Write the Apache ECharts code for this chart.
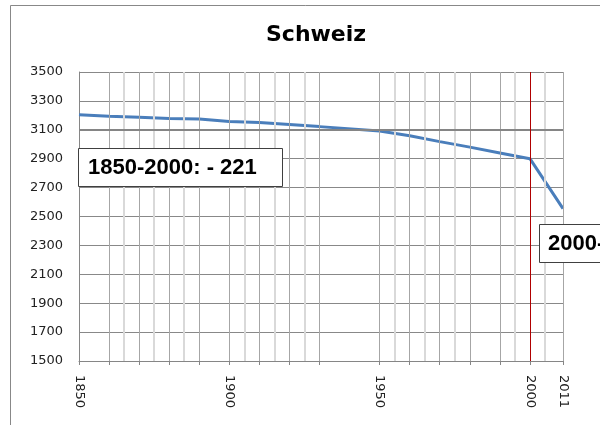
<!DOCTYPE html>
<html>
<head>
<meta charset="utf-8">
<script src="https://cdn.jsdelivr.net/npm/echarts@6/dist/echarts.min.js"></script>
<style>
  html, body { margin: 0; padding: 0; background: #fff; }
  #chart { width: 600px; height: 425px; }
</style>
</head>
<body>
<div id="chart"></div>
<script>
// Bevoelkerung (Tsd.) - gelesen aus der Vorlage
const years = [1850, 1860, 1870, 1880, 1890, 1900, 1910, 1920, 1930, 1950, 1960, 1970, 1980, 1990, 2000, 2011];
const values = [3205, 3193, 3186, 3178, 3174, 3158, 3150, 3136, 3122, 3091, 3059, 3018, 2980, 2939, 2900, 2554];

const majorGridYears = [1860, 1870, 1880, 1890, 1900, 1910, 1920, 1930, 1950, 1960, 1970, 1980, 1990];
const minorGridYears = [1865, 1875, 1885, 1905, 1915, 1925, 1955, 1965, 1975, 1995, 2005];
const tickYears = [1850, 1860, 1870, 1880, 1890, 1900, 1910, 1920, 1930, 1950, 1960, 1970, 1980, 1990, 2000, 2011];
const labelYears = [1850, 1900, 1950, 2000, 2011];
const markYear = 2000;
const refLevel = 3100;

const box1Text = '1850-2000: - 221';
const box2Text = '2000-2011: - 346';

const chart = echarts.init(document.getElementById('chart'));

const vLines = [];
minorGridYears.forEach(y => vLines.push({ xAxis: y, lineStyle: { color: '#d9d9d9', width: 2, type: 'solid' } }));
majorGridYears.forEach(y => vLines.push({ xAxis: y, lineStyle: { color: '#a6a6a6', width: 1, type: 'solid' } }));
vLines.push({ xAxis: 2011, lineStyle: { color: '#a6a6a6', width: 1, type: 'solid' } });

const boxFont = 'bold 22px "Liberation Sans", Arial';

const option = {
  animation: false,
  title: {
    text: 'Schweiz',
    left: 261,
    top: 19,
    textStyle: { fontFamily: 'DejaVu Sans', fontWeight: 'bold', fontSize: 22, color: '#000' }
  },
  grid: { left: 79, right: 37, top: 72, bottom: 64 },
  xAxis: {
    type: 'value',
    min: 1850,
    max: 2011,
    splitLine: { show: false },
    axisLine: { show: true, lineStyle: { color: '#868686', width: 1 } },
    axisTick: { show: true, length: 4, lineStyle: { color: '#868686' }, customValues: tickYears },
    axisLabel: {
      customValues: labelYears,
      formatter: v => String(v),
      rotate: -90,
      margin: 14,
      fontFamily: 'DejaVu Sans',
      fontSize: 13,
      color: '#222'
    }
  },
  yAxis: {
    type: 'value',
    min: 1500,
    max: 3500,
    interval: 200,
    axisLine: { show: true, lineStyle: { color: '#868686', width: 1 } },
    axisTick: { show: false },
    splitLine: { lineStyle: { color: '#888888', width: 1 } },
    axisLabel: { formatter: v => String(v), margin: 16, fontFamily: 'DejaVu Sans', fontSize: 13, color: '#222' }
  },
  series: [
    {
      type: 'line',
      data: [],
      silent: true,
      z: 1,
      markLine: {
        silent: true,
        symbol: 'none',
        label: { show: false },
        animation: false,
        data: vLines.concat([
          { yAxis: refLevel, lineStyle: { color: '#858585', width: 2, type: 'solid' } }
        ])
      }
    },
    {
      type: 'line',
      data: years.map((y, i) => [y, values[i]]),
      showSymbol: false,
      symbol: 'none',
      lineStyle: { color: '#4a7ebb', width: 3 },
      z: 3,
      markLine: {
        silent: true,
        symbol: 'none',
        label: { show: false },
        data: [{ xAxis: markYear, lineStyle: { color: '#b00000', width: 1, type: 'solid' } }]
      }
    }
  ],
  graphic: [
    {
      type: 'rect',
      shape: { x: 10.5, y: 5.5, width: 700, height: 600 },
      style: { fill: 'none', stroke: '#888', lineWidth: 1 },
      silent: true,
      z: 0
    },
    {
      type: 'rect',
      shape: { x: 78.5, y: 148.5, width: 204, height: 38 },
      style: { fill: '#fff', stroke: '#404040', lineWidth: 1 },
      z: 100
    },
    {
      type: 'text',
      x: 88,
      y: 168,
      style: { text: box1Text, font: boxFont, fill: '#000', verticalAlign: 'middle', align: 'left' },
      z: 101
    },
    {
      type: 'rect',
      shape: { x: 539.5, y: 224.5, width: 204, height: 38 },
      style: { fill: '#fff', stroke: '#404040', lineWidth: 1 },
      z: 100
    },
    {
      type: 'text',
      x: 548,
      y: 244,
      style: { text: box2Text, font: boxFont, fill: '#000', verticalAlign: 'middle', align: 'left' },
      z: 101
    }
  ]
};

chart.setOption(option);
</script>
</body>
</html>
